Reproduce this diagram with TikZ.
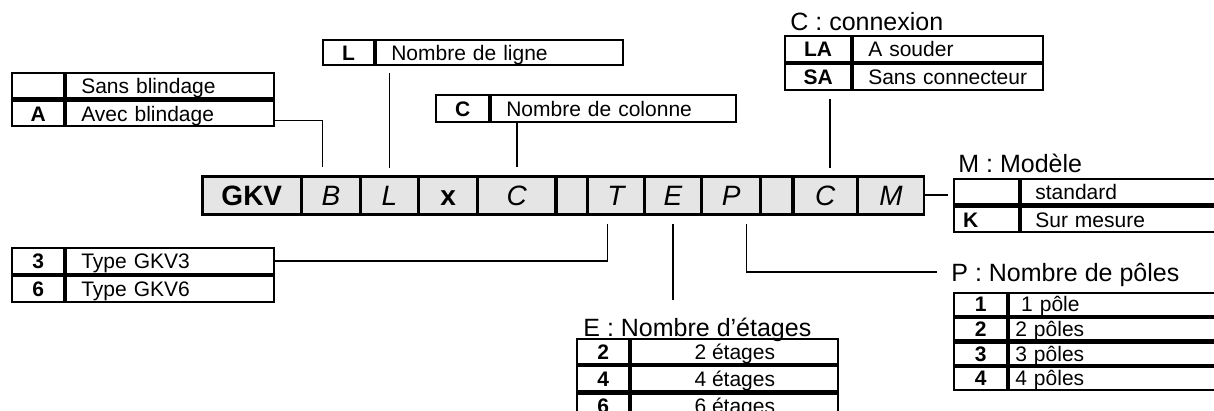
\documentclass[tikz,border=0pt]{standalone}
\usepackage{fontspec}
\setmainfont{Liberation Sans}
\newcommand\celltxt{\fontsize{10.5pt}{12pt}\selectfont}
\newcommand\headtxt{\fontsize{12.5pt}{14pt}\selectfont}
\newcommand\codetxt{\fontsize{14pt}{16pt}\selectfont}

\begin{document}
\begin{tikzpicture}[x=0.5pt,y=-0.5pt,
    box/.style={draw, line width=1.1pt, inner sep=0pt, anchor=north west,
      font=\celltxt, text height=9pt, text depth=1.5pt},
    keycell/.style={box, font=\celltxt\bfseries},
    desccell/.style={box, align=left, inner xsep=7.5pt},
    code/.style={draw, line width=0.8pt, fill=gray!20, inner sep=0pt,
      anchor=north west, minimum height=18.5pt, font=\codetxt,
      text height=11.5pt, text depth=1.5pt},
    head/.style={inner sep=0pt, anchor=west, font=\headtxt,
      text height=10.5pt, text depth=1.5pt},
    conn/.style={line width=0.8pt}]

  \useasboundingbox (0,0) rectangle (1214,411);
  \clip (0,0) rectangle (1214,411);

  % reference code
  \node[code, minimum width=49pt, font=\codetxt\bfseries] (mGKV) at (202,176) {GKV};
  \node[code, minimum width=28.5pt] (mB)    at (mGKV.north east) {\itshape B};
  \node[code, minimum width=28.5pt] (mL)    at (mB.north east)   {\itshape L};
  \node[code, minimum width=28.5pt, font=\codetxt\bfseries] (mx) at (mL.north east) {x};
  \node[code, minimum width=38.5pt] (mC)    at (mx.north east)   {\itshape C};
  \node[code, minimum width=15pt]   (mgap1) at (mC.north east)   {};
  \node[code, minimum width=27.5pt] (mT)    at (mgap1.north east) {\itshape T};
  \node[code, minimum width=28pt]   (mE)    at (mT.north east)   {\itshape E};
  \node[code, minimum width=28.5pt] (mP)    at (mE.north east)   {\itshape P};
  \node[code, minimum width=15.5pt] (mgap2) at (mP.north east)   {};
  \node[code, minimum width=31.5pt] (mCC)   at (mgap2.north east) {\itshape C};
  \node[code, minimum width=32.5pt] (mM)    at (mCC.north east)  {\itshape M};
  \draw[line width=1.1pt] (mGKV.north west) rectangle (mM.south east);

  % blindage
  \begin{scope}[every node/.append style={minimum height=12.75pt}]
    \node[keycell, minimum width=26pt] (bl1k) at (11,72) {};
    \node[desccell, text width=89pt] (bl1d) at (bl1k.north east) {Sans blindage};
    \node[keycell, minimum width=26pt] (bl2k) at (bl1k.south west) {A};
    \node[desccell, text width=89pt] (bl2d) at (bl2k.north east) {Avec blindage};
  \end{scope}

  % lignes
  \begin{scope}[every node/.append style={minimum height=12.5pt}]
    \node[keycell, minimum width=25.5pt] (ln1k) at (322,39) {L};
    \node[desccell, text width=108.5pt] (ln1d) at (ln1k.north east) {Nombre de ligne};
  \end{scope}

  % colonnes
  \begin{scope}[every node/.append style={minimum height=13.5pt}]
    \node[keycell, minimum width=26.5pt] (cl1k) at (435,94) {C};
    \node[desccell, text width=107.5pt] (cl1d) at (cl1k.north east) {Nombre de colonne};
  \end{scope}

  % connexion
  \node[head] (cxh) at (790,22) {C : connexion};
  \begin{scope}[every node/.append style={minimum height=13pt}]
    \node[keycell, minimum width=33pt] (cx1k) at (784,35) {LA};
    \node[desccell, text width=80pt] (cx1d) at (cx1k.north east) {A souder};
    \node[keycell, minimum width=33pt] (cx2k) at (cx1k.south west) {SA};
    \node[desccell, text width=80pt] (cx2d) at (cx2k.north east) {Sans connecteur};
  \end{scope}

  % modele
  \node[head] (mdh) at (958,164) {M : Modèle};
  \begin{scope}[every node/.append style={minimum height=12.75pt}]
    \node[keycell, text width=23.5pt, align=left, inner xsep=4.5pt] (md1k) at (953,178) {};
    \node[desccell, text width=83.5pt, inner xsep=7pt] (md1d) at (md1k.north east) {standard};
    \node[keycell, text width=23.5pt, align=left, inner xsep=4.5pt] (md2k) at (md1k.south west) {K};
    \node[desccell, text width=83.5pt, inner xsep=7pt] (md2d) at (md2k.north east) {Sur mesure};
  \end{scope}

  % type
  \begin{scope}[every node/.append style={minimum height=13pt}]
    \node[keycell, minimum width=26pt] (ty1k) at (11,247) {3};
    \node[desccell, text width=89pt] (ty1d) at (ty1k.north east) {Type GKV3};
    \node[keycell, minimum width=26pt] (ty2k) at (ty1k.south west) {6};
    \node[desccell, text width=89pt] (ty2d) at (ty2k.north east) {Type GKV6};
  \end{scope}

  % etages
  \node[head] (eth) at (583,327) {E : Nombre d’étages};
  \begin{scope}[every node/.append style={minimum height=12.5pt}]
    \node[keycell, minimum width=26pt] (et1k) at (576,338) {2};
    \node[box, minimum width=103.5pt] (et1d) at (et1k.north east) {2 étages};
    \node[keycell, minimum width=26pt] (et2k) at (et1k.south west) {4};
    \node[box, minimum width=103.5pt] (et2d) at (et2k.north east) {4 étages};
    \node[keycell, minimum width=26pt] (et3k) at (et2k.south west) {6};
    \node[box, minimum width=103.5pt] (et3d) at (et3k.north east) {6 étages};
  \end{scope}

  % poles
  \node[head] (plh) at (951,272) {P : Nombre de pôles};
  \begin{scope}[every node/.append style={minimum height=11.25pt}]
    \node[keycell, minimum width=26.5pt] (pl1k) at (953,292) {1};
    \node[desccell, text width=97.5pt, inner xsep=3pt] (pl1d) at (pl1k.north east) {\hspace*{0.28em}1 pôle};
    \node[keycell, minimum width=26.5pt] (pl2k) at (pl1k.south west) {2};
    \node[desccell, text width=97.5pt, inner xsep=3pt] (pl2d) at (pl2k.north east) {2 pôles};
    \node[keycell, minimum width=26.5pt] (pl3k) at (pl2k.south west) {3};
    \node[desccell, text width=97.5pt, inner xsep=3pt] (pl3d) at (pl3k.north east) {3 pôles};
    \node[keycell, minimum width=26.5pt] (pl4k) at (pl3k.south west) {4};
    \node[desccell, text width=97.5pt, inner xsep=3pt] (pl4d) at (pl4k.north east) {4 pôles};
  \end{scope}

  % connectors
  \coordinate (btop) at ([xshift=-4.25pt]mB.north);
  \draw[conn, shorten >=4.5pt] ([yshift=-3.5pt]bl2d.east) -| (btop);
  \draw[conn, shorten <=3.5pt, shorten >=4pt] (ln1d.south -| mL.north) -- (mL.north);
  \draw[conn, shorten >=4.5pt] (cl1d.south -| mC.north) -- (mC.north);
  \coordinate (cxtop) at ([xshift=2.25pt]mCC.north);
  \draw[conn, shorten <=4pt, shorten >=4pt] (cx2k.south -| cxtop) -- (cxtop);
  \draw[conn, shorten >=2.5pt] (mM.east) -- (mM.east -| md1k.west);
  \coordinate (tbot) at ([xshift=-4.25pt]mT.south);
  \draw[conn, shorten <=4.5pt] (tbot) |- (ty1d.east);
  \draw[conn, shorten <=4.5pt, shorten >=7.5pt] (mE.south) -- (mE.south |- eth.north);
  \coordinate (pbot) at ([xshift=7.75pt]mP.south);
  \draw[conn, shorten <=4.5pt, shorten >=7pt] (pbot) |- (plh.west);

\end{tikzpicture}
\end{document}
